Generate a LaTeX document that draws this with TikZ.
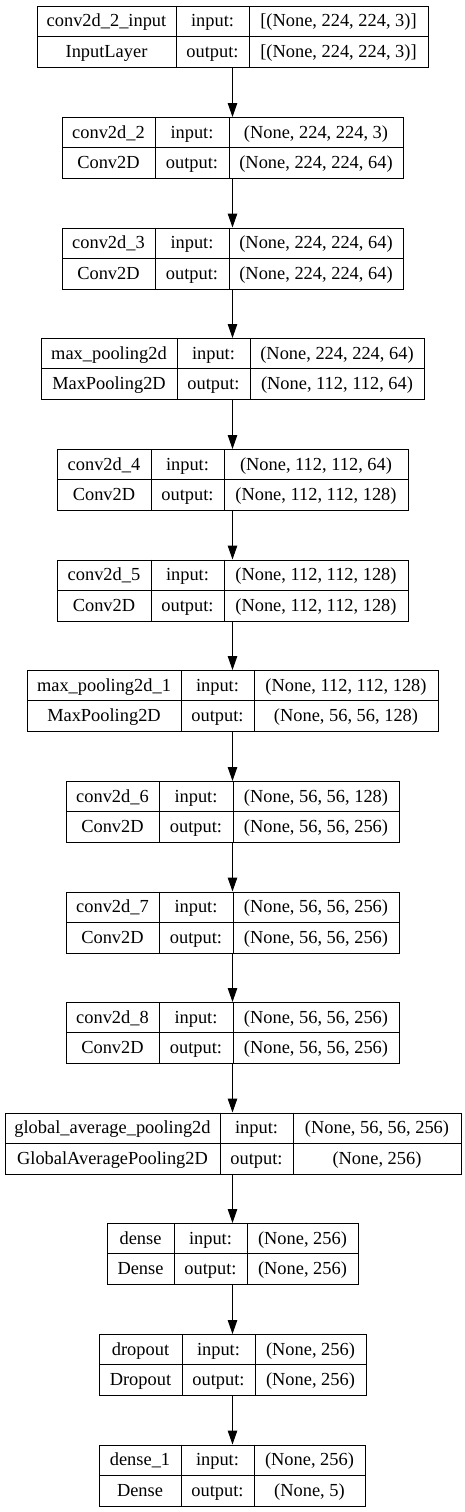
\documentclass[tikz,border=0pt]{standalone}
\usepackage{fontspec}
\setmainfont{Liberation Serif}
\newfontfamily\tnr{Liberation Serif}
\usetikzlibrary{arrows.meta}
\tikzset{
  boxline/.style={draw=black, line width=1pt},
  outerbox/.style={boxline, rectangle, inner sep=0pt, anchor=north west, fill=white},
  celltext/.style={anchor=base, inner sep=0pt, font=\tnr\fontsize{18.4}{20}\selectfont},
  arr/.style={line width=1pt, -{Triangle[length=14pt,width=9.5pt]}}
}
% #1 id, #2 top y, #3..#6 x positions
\newcommand\layerbox[6]{%
  \node[outerbox, minimum width={(#6-#3)*1pt}, minimum height=61pt] (L#1) at (#3,#2) {};
  \draw[boxline] ({#4},{#2}) -- ({#4},{#2+61});
  \draw[boxline] ({#5},{#2}) -- ({#5},{#2+61});
  \draw[boxline] ({#3},{#2+30.5}) -- ({#6},{#2+30.5});
  \coordinate (A#1) at ({(#3+#4)/2},{#2+21});
  \coordinate (B#1) at ({(#4+#5)/2},{#2+21});
  \coordinate (C#1) at ({(#5+#6)/2},{#2+21});
  \coordinate (D#1) at ({(#3+#4)/2},{#2+51.5});
  \coordinate (E#1) at ({(#4+#5)/2},{#2+51.5});
  \coordinate (F#1) at ({(#5+#6)/2},{#2+51.5});
}
% #1 id, #2 layer name, #3 class, #4 input shape, #5 output shape
\newcommand\layertext[5]{%
  \node[celltext] (na#1) at (A#1) {#2};
  \node[celltext] (in#1) at (B#1) {input:};
  \node[celltext] (is#1) at (C#1) {#4};
  \node[celltext] (cl#1) at (D#1) {#3};
  \node[celltext] (ou#1) at (E#1) {output:};
  \node[celltext] (os#1) at (F#1) {#5};
}
\begin{document}
\begin{tikzpicture}[x=1pt,y=-1pt]
\useasboundingbox[fill=white] (0,0) rectangle (465,1512);

\layerbox{1}{6}{37}{176}{249}{428}
\layertext{1}{conv2d\_2\_input}{InputLayer}{[(None, 224, 224, 3)]}{[(None, 224, 224, 3)]}

\layerbox{2}{117}{62}{155}{229}{403}
\layertext{2}{conv2d\_2}{Conv2D}{(None, 224, 224, 3)}{(None, 224, 224, 64)}

\layerbox{3}{227.5}{62}{155}{229}{403}
\layertext{3}{conv2d\_3}{Conv2D}{(None, 224, 224, 64)}{(None, 224, 224, 64)}

\layerbox{4}{338}{41}{177}{250}{424}
\layertext{4}{max\_pooling2d}{MaxPooling2D}{(None, 224, 224, 64)}{(None, 112, 112, 64)}

\layerbox{5}{449}{57}{151}{224}{408}
\layertext{5}{conv2d\_4}{Conv2D}{(None, 112, 112, 64)}{(None, 112, 112, 128)}

\layerbox{6}{559.5}{57}{151}{224}{408}
\layertext{6}{conv2d\_5}{Conv2D}{(None, 112, 112, 128)}{(None, 112, 112, 128)}

\layerbox{7}{670}{27}{181}{254}{438}
\layertext{7}{max\_pooling2d\_1}{MaxPooling2D}{(None, 112, 112, 128)}{(None, 56, 56, 128)}

\layerbox{8}{781}{66}{159}{233}{399}
\layertext{8}{conv2d\_6}{Conv2D}{(None, 56, 56, 128)}{(None, 56, 56, 256)}

\layerbox{9}{891.5}{66}{159}{233}{399}
\layertext{9}{conv2d\_7}{Conv2D}{(None, 56, 56, 256)}{(None, 56, 56, 256)}

\layerbox{10}{1002}{66}{159}{233}{399}
\layertext{10}{conv2d\_8}{Conv2D}{(None, 56, 56, 256)}{(None, 56, 56, 256)}

\layerbox{11}{1112.5}{5}{220}{293}{461}
\layertext{11}{global\_average\_pooling2d}{GlobalAveragePooling2D}{(None, 56, 56, 256)}{(None, 256)}

\layerbox{12}{1223}{107}{174}{247}{358}
\layertext{12}{dense}{Dense}{(None, 256)}{(None, 256)}

\layerbox{13}{1334}{99}{182}{255}{366}
\layertext{13}{dropout}{Dropout}{(None, 256)}{(None, 256)}

\layerbox{14}{1444.5}{99}{181}{254}{365}
\layertext{14}{dense\_1}{Dense}{(None, 256)}{(None, 5)}

\foreach \i [evaluate=\i as \j using int(\i+1)] in {1,...,13}{
  \draw[arr] (L\i.south -| 232.5,0) -- (L\j.north -| 232.5,0);
}
\end{tikzpicture}
\end{document}
